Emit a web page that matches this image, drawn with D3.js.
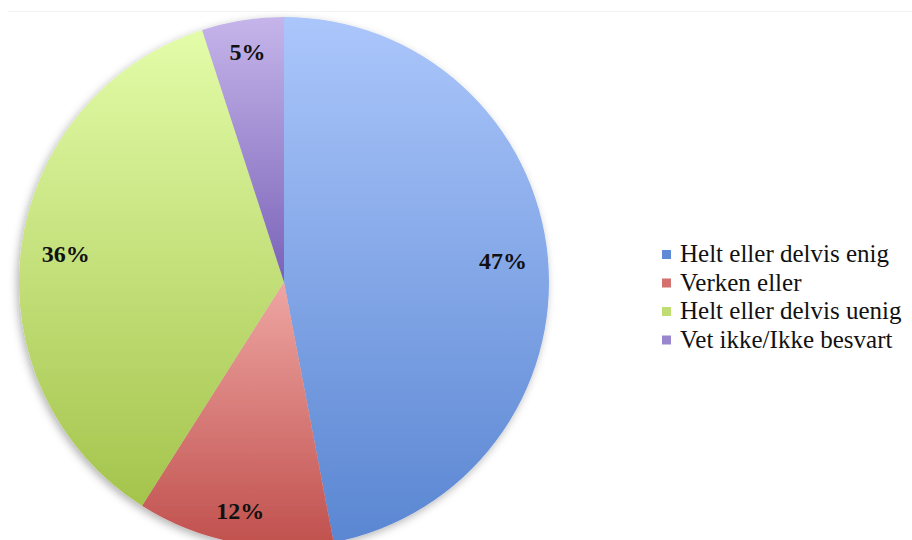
<!DOCTYPE html>
<html>
<head>
<meta charset="utf-8">
<script src="https://cdn.jsdelivr.net/npm/d3@7"></script>
<style>
  html, body { margin: 0; padding: 0; background: #fff; }
  text { font-family: "Liberation Serif" !important; }
</style>
</head>
<body>
<div id="chart"></div>
<script>
// data
const categories = ["Helt eller delvis enig", "Verken eller", "Helt eller delvis uenig", "Vet ikke/Ikke besvart"];
const values = [47, 12, 36, 5];
const labels = ["47%", "12%", "36%", "5%"];
const colorsTop = ["#abc6fb", "#eea6a3", "#e3fca9", "#c5b5ea"];
const colorsBottom = ["#5a86d2", "#c0504d", "#a4c44c", "#7a62b8"];
const legendColors = ["#5f8ad6", "#d4706d", "#c0dd74", "#9886cf"];

const width = 912, height = 540;
const cx = 284, cy = 282, r = 265;

const svg = d3.select("#chart").append("svg")
  .attr("width", width)
  .attr("height", height)
  .attr("font-family", "Liberation Serif");

const defs = svg.append("defs");

// soft shadow like the excel one
const shadow = defs.append("filter")
  .attr("id", "shadow")
  .attr("x", "-10%").attr("y", "-10%")
  .attr("width", "120%").attr("height", "120%");
shadow.append("feDropShadow")
  .attr("dx", -2).attr("dy", 3)
  .attr("stdDeviation", 4)
  .attr("flood-color", "#000")
  .attr("flood-opacity", 0.3);

// one vertical gradient per slice
categories.forEach((c, i) => {
  const g = defs.append("linearGradient")
    .attr("id", "grad" + i)
    .attr("x1", 0).attr("y1", 0)
    .attr("x2", 0).attr("y2", 1);
  g.append("stop").attr("offset", "0%").attr("stop-color", colorsTop[i]);
  g.append("stop").attr("offset", "100%").attr("stop-color", colorsBottom[i]);
});

// faint chart area border at the top
svg.append("line")
  .attr("x1", 8).attr("x2", width)
  .attr("y1", 11.5).attr("y2", 11.5)
  .attr("stroke", "#f2f2f2")
  .attr("stroke-width", 1);

const data = categories.map((c, i) => ({ name: c, value: values[i], label: labels[i], i: i }));

const pie = d3.pie()
  .value(d => d.value)
  .sort(null);

const arc = d3.arc()
  .innerRadius(0)
  .outerRadius(r);

const arcs = pie(data);

const g = svg.append("g")
  .attr("transform", `translate(${cx},${cy})`);

g.append("g")
  .attr("filter", "url(#shadow)")
  .selectAll("path")
  .data(arcs)
  .join("path")
  .attr("d", arc)
  .attr("fill", d => `url(#grad${d.data.i})`);

// labels - small slices sit a bit further out (best fit)
arcs.forEach(d => {
  const frac = (d.endAngle - d.startAngle) / (2 * Math.PI);
  const lr = r * (frac < 0.15 ? 0.88 : 0.83);
  const a = (d.startAngle + d.endAngle) / 2;
  svg.append("text")
    .attr("x", cx + lr * Math.sin(a))
    .attr("y", cy - lr * Math.cos(a) + 8)
    .attr("text-anchor", "middle")
    .attr("font-family", "Liberation Serif")
    .attr("font-weight", "bold")
    .attr("font-size", 24)
    .attr("fill", "#111")
    .text(d.data.label);
});

// legend
data.forEach((d, i) => {
  const y = 254 + i * 28.5;
  svg.append("rect")
    .attr("x", 662)
    .attr("y", y - 4)
    .attr("width", 9)
    .attr("height", 9)
    .attr("fill", legendColors[i]);
  svg.append("text")
    .attr("x", 680)
    .attr("y", y + 8)
    .attr("font-family", "Liberation Serif")
    .attr("font-size", 25)
    .attr("fill", "#111")
    .text(d.name);
});
</script>
</body>
</html>
